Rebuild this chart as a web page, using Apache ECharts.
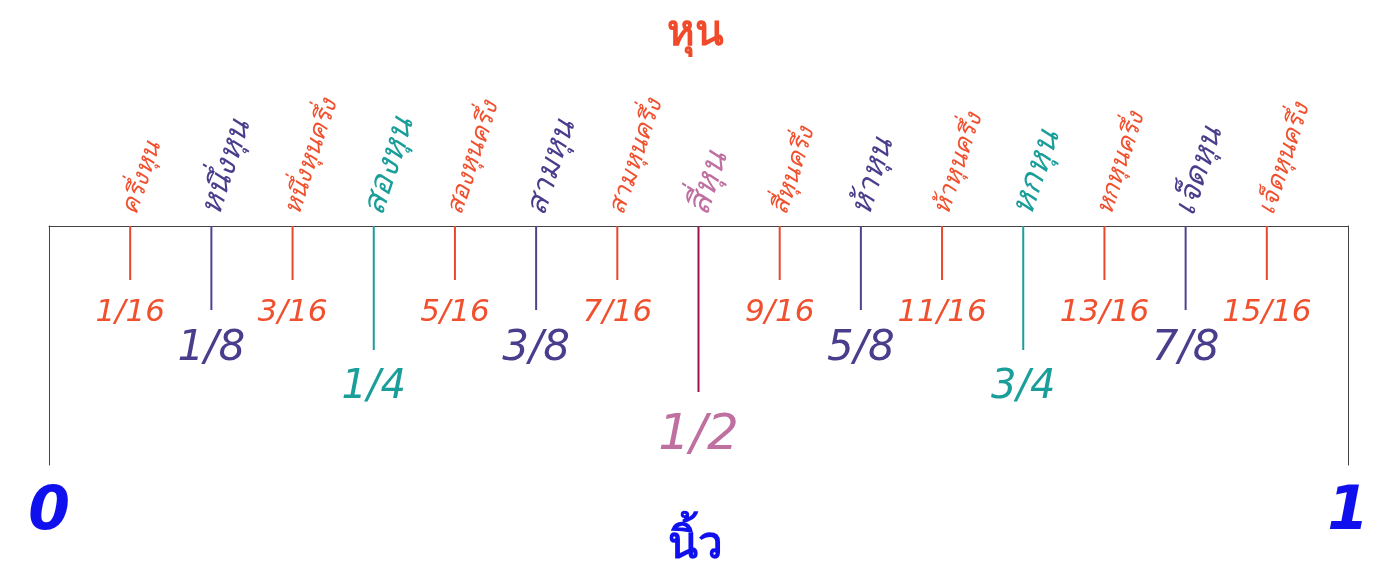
<!DOCTYPE html>
<html><head><meta charset="utf-8">
<script src="https://cdn.jsdelivr.net/npm/echarts@6/dist/echarts.min.js"></script>
<style>html,body{margin:0;background:#fff}#c{width:1391px;height:585px}</style></head>
<body><div id="c"></div>
<script>
const positions = [1,2,3,4,5,6,7,8,9,10,11,12,13,14,15].map(n=>n/16);
const fractions = ['1/16','1/8','3/16','1/4','5/16','3/8','7/16','1/2','9/16','5/8','11/16','3/4','13/16','7/8','15/16'];
const thaiNames = ['ครึ่งหุน','หนึ่งหุน','หนึ่งหุนครึ่ง','สองหุน','สองหุนครึ่ง','สามหุน','สามหุนครึ่ง','สี่หุน','สี่หุนครึ่ง','ห้าหุน','ห้าหุนครึ่ง','หกหุน','หกหุนครึ่ง','เจ็ดหุน','เจ็ดหุนครึ่ง'];
const levels = [16,8,16,4,16,8,16,2,16,8,16,4,16,8,16];
const tickLen = {16:54, 8:84, 4:124, 2:166};
const lineColor = {16:'#e8472e', 8:'#4b4590', 4:'#1a9e9a', 2:'#a0104a'};
const textColor = {16:'#f0502e', 8:'#4a3d8c', 4:'#1a9e9a', 2:'#c070a0'};
const bottomSize = {16:31, 8:42, 4:40, 2:50};
const topSize = {16:25, 8:31, 4:33, 2:33};
const FONT = '"DejaVu Sans", sans-serif';
const data = positions.map((p,i)=>[p, tickLen[levels[i]], i]);
const chart = echarts.init(document.getElementById('c'));
chart.setOption({
  animation:false,
  title:[{text:'หุน',left:'center',top:8,textStyle:{color:'#f04a2a',fontSize:42,fontWeight:'bold',fontFamily:FONT}},
         {text:'นิ้ว',left:'center',top:520,textStyle:{color:'#1010ee',fontSize:44,fontWeight:'bold',fontFamily:FONT}}],
  grid:{left:49,right:43,top:226,bottom:120},
  xAxis:[{type:'value',min:0,max:1,position:'top',axisLine:{show:true,lineStyle:{color:'#444',width:1}},axisTick:{show:false},axisLabel:{show:false},splitLine:{show:false}},
         {type:'value',min:0,max:1,interval:1,position:'bottom',axisLine:{show:false},axisTick:{show:false},splitLine:{show:false},
          axisLabel:{show:true,margin:18,color:'#1010ee',fontSize:60,fontStyle:'italic',fontWeight:'bold',fontFamily:FONT}}],
  yAxis:[{type:'value',inverse:true,min:0,max:239,position:'left',axisLine:{show:true,onZero:false,lineStyle:{color:'#444',width:1}},axisTick:{show:false},axisLabel:{show:false},splitLine:{show:false}},
         {type:'value',inverse:true,min:0,max:239,position:'right',axisLine:{show:true,onZero:false,lineStyle:{color:'#444',width:1}},axisTick:{show:false},axisLabel:{show:false},splitLine:{show:false}}],
  series:[{type:'custom',xAxisIndex:0,yAxisIndex:0,data:data,
    renderItem:function(params,api){
      const i=api.value(2), lv=levels[i];
      const a=api.coord([api.value(0),0]), b=api.coord([api.value(0),api.value(1)]);
      return {type:'group',children:[
        {type:'line',shape:{x1:a[0],y1:a[1],x2:b[0],y2:b[1]},style:{stroke:lineColor[lv],lineWidth:2}},
        {type:'text',x:b[0],y:b[1]+14+bottomSize[lv]*0.6,style:{text:fractions[i],fill:textColor[lv],fontSize:bottomSize[lv],fontStyle:'italic',fontFamily:FONT,align:'center',verticalAlign:'middle'}},
        {type:'text',x:a[0],y:a[1]-12,rotation:1.25,style:{text:thaiNames[i],fill:textColor[lv],fontSize:topSize[lv],fontStyle:'italic',fontFamily:FONT,align:'left',verticalAlign:'middle'}}
      ]};
    }},
    {type:'line',xAxisIndex:1,yAxisIndex:1,data:[],silent:true}]
});
</script></body></html>
